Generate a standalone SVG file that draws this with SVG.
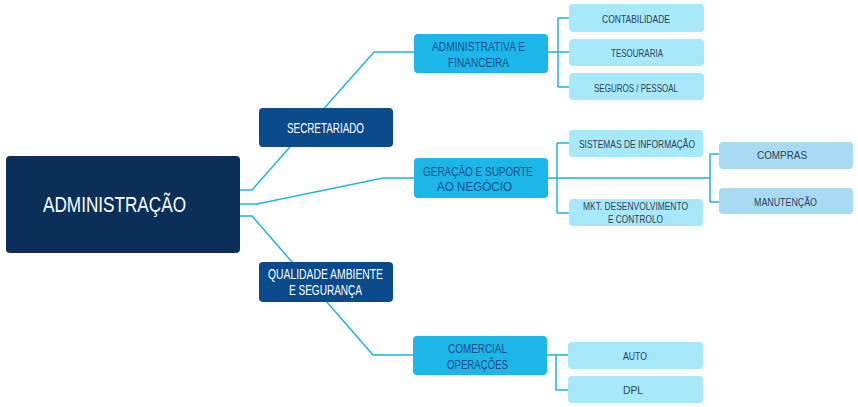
<svg xmlns="http://www.w3.org/2000/svg" width="858" height="407" viewBox="0 0 858 407">
<style>
text{font-family:"Liberation Sans",Arial,sans-serif;text-anchor:middle}
.root{fill:#0c2f5a}
.l1{fill:#0b4b8b}
.l2{fill:#1cb6e8}
.l3{fill:#a8e8fb}
.l4{fill:#a9daf3}
.t0{fill:#ffffff;font-size:22px}
.t1{fill:#ffffff;font-size:14px}
.t2{fill:#1c4f86;font-size:13px}
.t3{fill:#2d4257;font-size:11px}
#connectors path{fill:none;stroke:#22b3df;stroke-width:1.5}
</style>
<rect width="858" height="407" fill="#ffffff"/>
<g id="connectors">
<path d="M240 190 H252 L374 52 H415"/>
<path d="M240 204 H257 L383 178 H415"/>
<path d="M240 216 H252 L373 355 H414"/>
<path d="M548 52 H558 M558 18 V87 M558 18 H569 M558 52 H569 M558 87 H569"/>
<path d="M548 178 H710 M557 143 V213 M557 143 H569 M557 213 H569 M710 154 V202 M710 154 H719 M710 202 H719"/>
<path d="M547 355 H568 M556 355 V390 H568"/>
</g>
<g id="n-admin"><rect class="root" x="6" y="156" width="234" height="97" rx="4"/><text class="t0" x="114.5" y="212" textLength="143" lengthAdjust="spacingAndGlyphs">ADMINISTRAÇÃO</text></g>
<g id="n-secretariado"><rect class="l1" x="259" y="108" width="134" height="39" rx="4"/><text class="t1" x="325.5" y="133" textLength="77" lengthAdjust="spacingAndGlyphs">SECRETARIADO</text></g>
<g id="n-qualidade"><rect class="l1" x="259" y="262" width="134" height="40" rx="4"/><text class="t1" x="325.5" y="279" textLength="115" lengthAdjust="spacingAndGlyphs">QUALIDADE AMBIENTE</text><text class="t1" x="325.5" y="294.5" textLength="73" lengthAdjust="spacingAndGlyphs">E SEGURANÇA</text></g>
<g id="n-adminfin"><rect class="l2" x="414" y="34" width="134" height="39" rx="4"/><text class="t2" x="478.5" y="51" textLength="93" lengthAdjust="spacingAndGlyphs">ADMINISTRATIVA E</text><text class="t2" x="478.5" y="66.5" textLength="61" lengthAdjust="spacingAndGlyphs">FINANCEIRA</text></g>
<g id="n-geracao"><rect class="l2" x="414" y="158" width="134" height="40" rx="4"/><text class="t2" x="478" y="175.5" textLength="110" lengthAdjust="spacingAndGlyphs">GERAÇÃO E SUPORTE</text><text class="t2" x="474.5" y="191" textLength="75" lengthAdjust="spacingAndGlyphs">AO NEGÓCIO</text></g>
<g id="n-comercial"><rect class="l2" x="413" y="336" width="134" height="39" rx="4"/><text class="t2" x="477.5" y="352.5" textLength="59" lengthAdjust="spacingAndGlyphs">COMERCIAL</text><text class="t2" x="477.5" y="368.5" textLength="61" lengthAdjust="spacingAndGlyphs">OPERAÇÕES</text></g>
<g id="n-contabilidade"><rect class="l3" x="569" y="4" width="135" height="28" rx="4"/><text class="t3" x="636" y="22.5" textLength="68" lengthAdjust="spacingAndGlyphs">CONTABILIDADE</text></g>
<g id="n-tesouraria"><rect class="l3" x="569" y="39" width="135" height="27" rx="4"/><text class="t3" x="637" y="57" textLength="52" lengthAdjust="spacingAndGlyphs">TESOURARIA</text></g>
<g id="n-seguros"><rect class="l3" x="569" y="73" width="135" height="27" rx="4"/><text class="t3" x="636" y="91.5" textLength="84" lengthAdjust="spacingAndGlyphs">SEGUROS / PESSOAL</text></g>
<g id="n-sistemas"><rect class="l3" x="569" y="130" width="134" height="27" rx="4"/><text class="t3" x="637" y="147.5" textLength="116" lengthAdjust="spacingAndGlyphs">SISTEMAS DE INFORMAÇÃO</text></g>
<g id="n-mkt"><rect class="l3" x="569" y="199" width="134" height="27" rx="4"/><text class="t3" x="635.5" y="210" textLength="105" lengthAdjust="spacingAndGlyphs">MKT. DESENVOLVIMENTO</text><text class="t3" x="635.5" y="222.5" textLength="55" lengthAdjust="spacingAndGlyphs">E CONTROLO</text></g>
<g id="n-compras"><rect class="l4" x="719" y="142" width="134" height="27" rx="4"/><text class="t3" x="782" y="159" textLength="50" lengthAdjust="spacingAndGlyphs">COMPRAS</text></g>
<g id="n-manutencao"><rect class="l4" x="719" y="188" width="134" height="26" rx="4"/><text class="t3" x="785.5" y="205.5" textLength="63" lengthAdjust="spacingAndGlyphs">MANUTENÇÃO</text></g>
<g id="n-auto"><rect class="l3" x="568" y="342" width="135" height="27" rx="4"/><text class="t3" x="635" y="359.5" textLength="24" lengthAdjust="spacingAndGlyphs">AUTO</text></g>
<g id="n-dpl"><rect class="l3" x="568" y="376" width="135" height="27" rx="4"/><text class="t3" x="633" y="394" textLength="20" lengthAdjust="spacingAndGlyphs">DPL</text></g>
</svg>
